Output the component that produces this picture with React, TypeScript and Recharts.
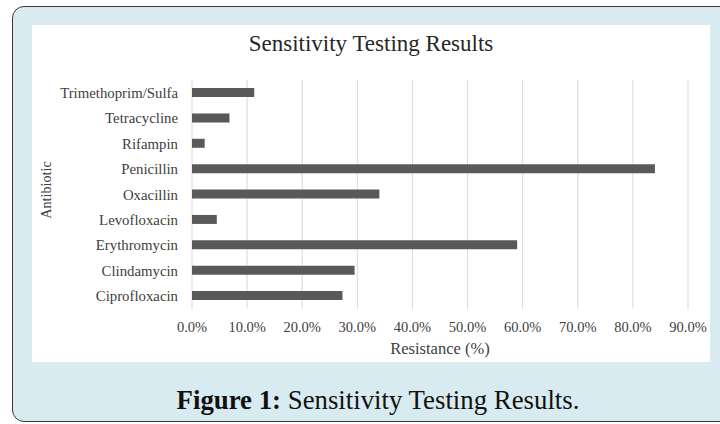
import React from "react"
import { BarChart, Bar, XAxis, YAxis, CartesianGrid } from "recharts"

const antibiotics = [
  "Trimethoprim/Sulfa",
  "Tetracycline",
  "Rifampin",
  "Penicillin",
  "Oxacillin",
  "Levofloxacin",
  "Erythromycin",
  "Clindamycin",
  "Ciprofloxacin",
]
const resistance = [11.3, 6.8, 2.3, 84.0, 34.0, 4.5, 59.0, 29.5, 27.3]
const xTicks = [0, 10, 20, 30, 40, 50, 60, 70, 80, 90]

const data = antibiotics.map((name, i) => ({ name, value: resistance[i] }))

const serif = "'Liberation Serif', 'Times New Roman', serif"

export default function App() {
  return (
    <div
      style={{
        position: "absolute",
        left: 0,
        top: 0,
        width: 720,
        height: 424,
        background: "#fff",
        overflow: "hidden",
      }}
    >
      <div
        style={{
          position: "absolute",
          left: 12,
          top: 6,
          width: 730,
          height: 416,
          boxSizing: "border-box",
          border: "1.5px solid #3a3a3a",
          borderRadius: 12,
          background: "#d7ebf0",
        }}
      />
      <div
        style={{
          position: "absolute",
          left: 32,
          top: 25,
          width: 678,
          height: 337,
          background: "#fff",
        }}
      >
        <div
          style={{
            position: "absolute",
            left: 0,
            top: 6.5,
            width: 678,
            textAlign: "center",
            fontFamily: serif,
            fontSize: 23,
            lineHeight: "23px",
            color: "#262626",
          }}
        >
          Sensitivity Testing Results
        </div>
        <div style={{ position: "absolute", left: 0, top: 0 }}>
          <BarChart
            width={678}
            height={337}
            data={data}
            layout="vertical"
            margin={{ top: 55, right: 22, bottom: 8, left: 0 }}
          >
            <CartesianGrid horizontal={false} stroke="#d9d9d9" strokeWidth={1} />
            <XAxis
              type="number"
              domain={[0, 90]}
              ticks={xTicks}
              tickFormatter={(v: number) => `${v.toFixed(1)}%`}
              axisLine={false}
              tickLine={false}
              tickSize={6}
              tickMargin={7}
              height={45.5}
              tick={{ fill: "#404040", fontSize: 14.5, fontFamily: serif }}
              label={{
                value: "Resistance (%)",
                position: "insideBottom",
                offset: 0,
                fill: "#404040",
                fontSize: 16.5,
                fontFamily: serif,
              }}
            />
            <YAxis
              type="category"
              dataKey="name"
              width={160}
              axisLine={false}
              tickLine={false}
              tickSize={6}
              tickMargin={8}
              interval={0}
              tick={{ fill: "#404040", fontSize: 14.8, fontFamily: serif }}
              label={{
                content: () => (
                  <text
                    x={19}
                    y={165}
                    transform="rotate(-90 19 165)"
                    textAnchor="middle"
                    fill="#404040"
                    fontSize={14.2}
                    fontFamily={serif}
                  >
                    Antibiotic
                  </text>
                ),
              }}
            />
            <Bar dataKey="value" fill="#595959" barSize={9} isAnimationActive={false} />
          </BarChart>
        </div>
      </div>
      <div
        style={{
          position: "absolute",
          left: 0,
          top: 387,
          width: 756,
          textAlign: "center",
          fontFamily: serif,
          fontSize: 26.8,
          lineHeight: "26.8px",
          color: "#111",
          whiteSpace: "nowrap",
        }}
      >
        <b>Figure 1:</b> Sensitivity Testing Results.
      </div>
    </div>
  )
}
